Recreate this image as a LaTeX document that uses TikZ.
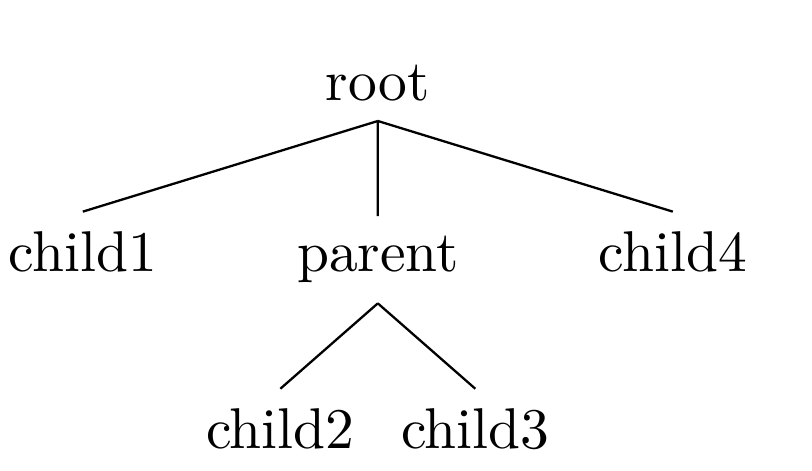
\documentclass[tikz,border=0pt]{standalone}
\usetikzlibrary{trees}
\tikzset{
    tree entry/.style={anchor=base, inner sep=0.3333em}
}
\begin{document}
\begin{tikzpicture}[
	level 1/.style={sibling distance=51.3pt},
	level 2/.style={sibling distance=33.9pt},
	level distance = 32.9pt,
	parent anchor=south, child anchor=north,
	edge from parent/.style={draw}]
	\useasboundingbox (-65.7pt,-64.5pt) rectangle (75.5pt,17.4pt);
		\begin{scope}[every node/.style={tree entry}]
			\node (root) at (0,0) {root}
				child{node (child1) {child1}}
				child{node (parent) {parent}
					child{node (child2) {child2}}
					child{node (child3) {child3}}}
				child{node (child4) {child4}};
		\end{scope}
	\end{tikzpicture}
\end{document}
